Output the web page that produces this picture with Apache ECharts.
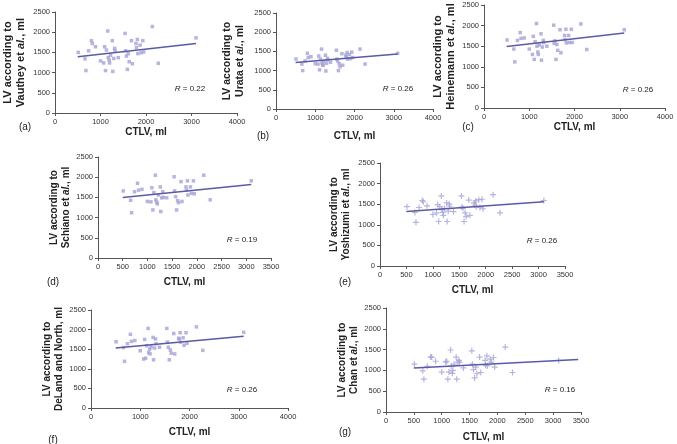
<!DOCTYPE html>
<html><head><meta charset="utf-8">
<script src="https://cdn.jsdelivr.net/npm/echarts@6/dist/echarts.min.js"></script>
<style>html,body{margin:0;padding:0;background:#fff}#c{width:677px;height:444px}</style>
</head><body><div id="c"></div><script>
// CTLV (x) shared by all panels
const ctlv = [510, 660, 680, 740, 800, 820, 890, 1000, 1070, 1090, 1110, 1130, 1160, 1170, 1190, 1200, 1220, 1260, 1270, 1290, 1310, 1320, 1390, 1540, 1550, 1570, 1590, 1610, 1630, 1680, 1700, 1780, 1810, 1790, 1820, 1870, 1890, 1930, 1950, 2140, 2270, 3100];
const lvVauthey = [1500, 1340, 1050, 1540, 1790, 1720, 1640, 1290, 1240, 1640, 1050, 1560, 2030, 1370, 1310, 1240, 1430, 1790, 1030, 1350, 1600, 1540, 1370, 1970, 1540, 1410, 1080, 1470, 1270, 1790, 1220, 1720, 1820, 1620, 1470, 1680, 1490, 1790, 1510, 2140, 1230, 1860];
const lvUrata = [1300, 1170, 1000, 1250, 1450, 1340, 1360, 1180, 1170, 1380, 1020, 1300, 1560, 1200, 1150, 1140, 1240, 1400, 990, 1190, 1320, 1280, 1220, 1530, 1300, 1250, 1000, 1180, 1100, 1440, 1140, 1400, 1470, 1360, 1300, 1420, 1310, 1480, 1340, 1560, 1170, 1450];
const lvHeinemann = [1650, 1430, 1120, 1640, 1830, 1690, 1700, 1430, 1300, 1740, 1180, 1610, 2050, 1500, 1360, 1300, 1530, 1800, 1160, 1480, 1640, 1590, 1500, 2010, 1570, 1630, 1180, 1540, 1400, 1900, 1340, 1760, 1910, 1660, 1580, 1760, 1590, 1910, 1590, 2040, 1420, 1900];
const lvSchiano = [1660, 1430, 1120, 1640, 1850, 1680, 1700, 1400, 1390, 1740, 1190, 1620, 2050, 1440, 1380, 1340, 1560, 1760, 1150, 1490, 1640, 1500, 1490, 2010, 1660, 1520, 1190, 1420, 1370, 1890, 1400, 1760, 1910, 1680, 1560, 1760, 1600, 1910, 1590, 2050, 1440, 1910];
const lvYoshizumi = [1440, 1300, 1060, 1420, 1590, 1560, 1460, 1250, 1290, 1490, 1080, 1440, 1700, 1370, 1300, 1230, 1400, 1530, 1080, 1330, 1500, 1450, 1320, 1700, 1430, 1400, 1080, 1290, 1200, 1600, 1230, 1530, 1580, 1480, 1440, 1610, 1420, 1620, 1390, 1730, 1290, 1590];
const lvDeLand = [1690, 1540, 1190, 1640, 1880, 1700, 1720, 1460, 1250, 1750, 1270, 1590, 2030, 1410, 1500, 1380, 1560, 1800, 1230, 1530, 1760, 1640, 1550, 2030, 1680, 1550, 1230, 1480, 1400, 1900, 1380, 1780, 1920, 1760, 1680, 1790, 1600, 1920, 1650, 2070, 1470, 1930];
const lvChan = [1150, 990, 790, 1100, 1320, 1320, 1220, 960, 1200, 1220, 790, 960, 1490, 1100, 930, 1000, 1150, 1320, 790, 1200, 1240, 1200, 1060, 1470, 1150, 1020, 820, 1080, 920, 1320, 950, 1240, 1350, 1120, 1110, 1270, 1200, 1310, 1080, 1560, 950, 1240];
// trend lines (x ends, y ends)
const trendX = [500, 3100];
const trendXChan = [500, 3450];
const trendVauthey = [1390, 1720];
const trendUrata = [1210, 1430];
const trendHeinemann = [1490, 1820];
const trendSchiano = [1500, 1820];
const trendYoshizumi = [1320, 1560];
const trendDeLand = [1530, 1830];
const trendChan = [1060, 1260];
const rValues = ['0.22', '0.26', '0.26', '0.19', '0.26', '0.26', '0.16'];
const panelLetters = ['(a)', '(b)', '(c)', '(d)', '(e)', '(f)', '(g)'];
const yNames = ['LV according to\nVauthey et {i|al.}, ml', 'LV according to\nUrata et {i|al.}, ml', 'LV according to\nHeinemann et {i|al.}, ml', 'LV according to\nSchiano et {i|al.}, ml', 'LV according to\nYoshizumi et {i|al.}, ml', 'LV according to\nDeLand and North, ml', 'LV according to\nChan et {i|al.}, ml'];
const xName = 'CTLV, ml';

const FONT = '"Liberation Sans", Arial, sans-serif';
const PT = '#a3a3d6', LN = '#5a5aa6', AX = '#555';
const plus = 'path://M4,0H6V4H10V6H6V10H4V6H0V4H4Z';

const panels = [
  {ys: lvVauthey, tx: trendX, ty: trendVauthey, grid: [50, 12, 187, 101], xMax: 4000, xInt: 1000, sym: 'rect', yGap: 28, ySize: 11, xGap: 14, lab: [25, 127], r: [190, 89]},
  {ys: lvUrata, tx: trendX, ty: trendUrata, grid: [276, 13, 157, 96], xMax: 4000, xInt: 1000, sym: 'rect', yGap: 30, ySize: 10.5, xGap: 22, lab: [263, 136], r: [398, 89]},
  {ys: lvHeinemann, tx: trendX, ty: trendHeinemann, grid: [484, 5, 181, 103], xMax: 4000, xInt: 1000, sym: 'rect', yGap: 27, ySize: 11, xGap: 14, lab: [468, 127], r: [638, 90]},
  {ys: lvSchiano, tx: trendX, ty: trendSchiano, grid: [98, 157, 173, 101], xMax: 3500, xInt: 500, sym: 'rect', yGap: 26, ySize: 10, xGap: 19, lab: [53, 282], r: [242, 240]},
  {ys: lvYoshizumi, tx: trendX, ty: trendYoshizumi, grid: [380, 163, 185, 103], xMax: 3500, xInt: 500, sym: plus, yGap: 28, ySize: 10, xGap: 19, lab: [345, 282], r: [542, 241]},
  {ys: lvDeLand, tx: trendX, ty: trendDeLand, grid: [91, 310, 197, 98], xMax: 4000, xInt: 1000, sym: 'rect', yGap: 25, ySize: 10, xGap: 19, lab: [53, 440], r: [242, 390]},
  {ys: lvChan, tx: trendXChan, ty: trendChan, grid: [386, 308, 195, 104], xMax: 3500, xInt: 500, sym: plus, yGap: 25, ySize: 10, xGap: 20, lab: [345, 432], r: [560, 390]}
];

const plain = v => String(v);
const option = {backgroundColor: '#fff', animation: false, grid: [], xAxis: [], yAxis: [], series: [], graphic: []};
panels.forEach((p, i) => {
  option.grid.push({left: p.grid[0], top: p.grid[1], width: p.grid[2], height: p.grid[3], containLabel: false});
  option.xAxis.push({
    gridIndex: i, type: 'value', min: 0, max: p.xMax, interval: p.xInt,
    name: xName, nameLocation: 'middle', nameGap: p.xGap,
    nameTextStyle: {fontFamily: FONT, fontWeight: 'bold', fontSize: 10, color: '#222'},
    axisLine: {show: true, onZero: false, lineStyle: {color: AX, width: 1}},
    axisTick: {show: true, length: 3, lineStyle: {color: AX}},
    axisLabel: {fontFamily: FONT, fontSize: 7.5, color: '#333', margin: 5, formatter: plain},
    splitLine: {show: false}
  });
  option.yAxis.push({
    gridIndex: i, type: 'value', min: 0, max: 2500, interval: 500,
    name: yNames[i], nameLocation: 'middle', nameGap: p.yGap, nameRotate: 90,
    nameTextStyle: {fontFamily: FONT, fontWeight: 'bold', fontSize: p.ySize, color: '#222', lineHeight: p.ySize + 2,
      rich: {i: {fontFamily: FONT, fontWeight: 'bold', fontStyle: 'italic', fontSize: p.ySize, color: '#222'}}},
    axisLine: {show: true, lineStyle: {color: AX, width: 1}},
    axisTick: {show: true, length: 3, lineStyle: {color: AX}},
    axisLabel: {fontFamily: FONT, fontSize: 7.5, color: '#333', margin: 5, formatter: plain},
    splitLine: {show: false}
  });
  option.series.push({
    type: 'scatter', xAxisIndex: i, yAxisIndex: i,
    data: ctlv.map((x, k) => [x, p.ys[k]]),
    symbol: p.sym, symbolSize: p.sym === 'rect' ? 3.5 : 6,
    itemStyle: {color: PT}, z: 2
  });
  option.series.push({
    type: 'line', xAxisIndex: i, yAxisIndex: i,
    data: p.tx.map((x, k) => [x, p.ty[k]]),
    symbol: 'none', lineStyle: {color: LN, width: 1.5}, z: 3
  });
  option.graphic.push({type: 'text', x: p.lab[0], y: p.lab[1],
    style: {text: panelLetters[i], fontFamily: FONT, fontSize: 10, fill: '#222', align: 'center', verticalAlign: 'middle'}});
  option.graphic.push({type: 'text', x: p.r[0], y: p.r[1],
    style: {text: '{i|R} = ' + rValues[i], fontFamily: FONT, fontSize: 8, fill: '#222', align: 'center', verticalAlign: 'middle',
      rich: {i: {fontFamily: FONT, fontSize: 8, fontStyle: 'italic', fill: '#222'}}}});
});

const chart = echarts.init(document.getElementById('c'), null, {renderer: 'canvas'});
chart.setOption(option);
</script></body></html>
